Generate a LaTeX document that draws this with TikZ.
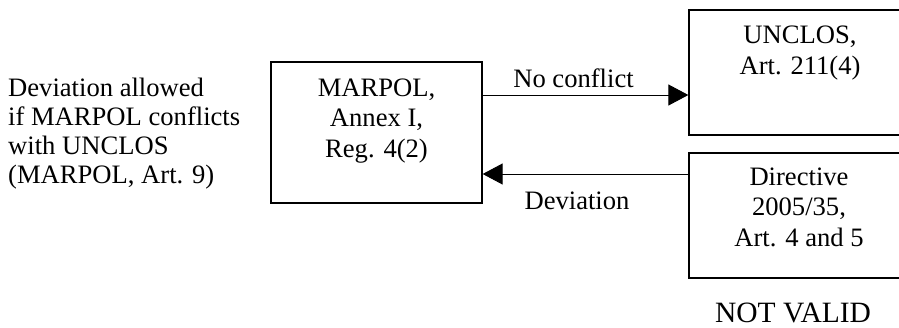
\documentclass[tikz,border=0pt]{standalone}
\usepackage{fontspec}
\setmainfont{Liberation Serif}
\usetikzlibrary{arrows.meta}
\begin{document}
\begin{tikzpicture}[x=1pt,y=-1pt,
  box/.style={draw, line width=1.3pt, inner sep=0pt},
  txt/.style={inner sep=0pt, align=center, font=\fontsize{26.6}{30.7}\selectfont},
  lefttxt/.style={inner sep=0pt, align=left, font=\fontsize{26.6}{29}\selectfont},
  flow/.style={line width=1pt, -{Triangle[length=20pt,width=21pt]}}]
\useasboundingbox (0,0) rectangle (899,327);

% boxes
\node[box, minimum width=211pt, minimum height=141pt] (marpol) at (376.5,132.5) {};
\node[box, minimum width=221pt, minimum height=125pt] (unclos) at (799.5,72.5) {};
\node[box, minimum width=221pt, minimum height=125pt] (directive) at (799.5,215.5) {};

% box texts (anchored at the baseline of the last line)
\node[txt, anchor=base] (marpoltxt) at (376.5,157.4) {MARPOL,\\Annex I,\\Reg. 4(2)};
\node[txt, anchor=base] (unclostxt) at (800,74.5) {UNCLOS,\\Art. 211(4)};
\node[txt, anchor=base] (directivetxt) at (799,246.5) {Directive\\2005/35,\\Art. 4 and 5};

% side note
\node[lefttxt, anchor=base west] (note) at (8,183)
  {Deviation allowed\\if MARPOL conflicts\\with UNCLOS\\(MARPOL, Art. 9)};

% connectors
\draw[flow] (marpol.east |- 0,95) -- (unclos.west |- 0,95);
\draw[flow] (directive.west |- 0,174) -- (marpol.east |- 0,174);

% connector labels
\node[txt, anchor=base] (noconflict) at (573.5,87) {No conflict};
\node[txt, anchor=base] (deviation) at (577,209) {Deviation};

% verdict
\node[txt, anchor=base, font=\fontsize{29.5}{34}\selectfont] (notvalid) at (793,322) {NOT VALID};
\end{tikzpicture}
\end{document}
